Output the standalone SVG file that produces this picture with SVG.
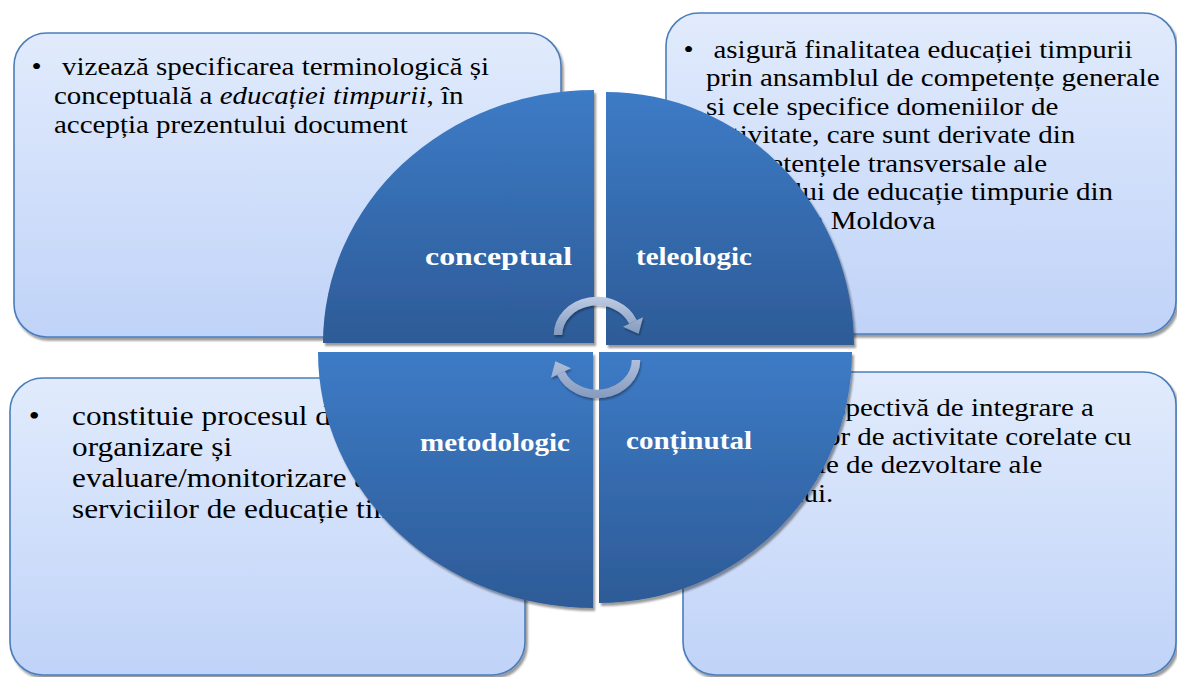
<svg xmlns="http://www.w3.org/2000/svg" width="1177" height="677" viewBox="0 0 1177 677">
<defs>
<style>
.box{fill:url(#boxGrad);stroke:#4a7ebb;stroke-width:1.6;filter:url(#shadow)}
.quad{fill:url(#quadGrad);filter:url(#shadow)}
.b{font-family:"Liberation Serif","Times New Roman",serif;font-size:26px;fill:#000}
.b28{font-family:"Liberation Serif","Times New Roman",serif;font-size:28px;fill:#000}
.lbl{font-family:"Liberation Serif","Times New Roman",serif;font-size:26px;font-weight:bold;fill:#fff}
.arc{fill:none;stroke-width:8.5}
</style>
<linearGradient id="boxGrad" x1="0" y1="0" x2="0" y2="1"><stop offset="0" stop-color="#e1ebfc"/><stop offset="1" stop-color="#c0d3f8"/></linearGradient>
<linearGradient id="quadGrad" x1="0" y1="0" x2="0" y2="1"><stop offset="0" stop-color="#3d7bc6"/><stop offset="1" stop-color="#2d5b97"/></linearGradient>
<linearGradient id="arrTop" gradientUnits="userSpaceOnUse" x1="0" y1="296" x2="0" y2="336"><stop offset="0" stop-color="#bfcde4"/><stop offset="1" stop-color="#8198bd"/></linearGradient>
<linearGradient id="arrBot" gradientUnits="userSpaceOnUse" x1="0" y1="358" x2="0" y2="399"><stop offset="0" stop-color="#b2c2dc"/><stop offset="1" stop-color="#8499be"/></linearGradient>
<filter id="shadow" x="-5%" y="-5%" width="115%" height="115%"><feGaussianBlur in="SourceAlpha" stdDeviation="1.2"/><feOffset dx="2" dy="3"/><feComponentTransfer><feFuncA type="linear" slope="0.4"/></feComponentTransfer><feMerge><feMergeNode/><feMergeNode in="SourceGraphic"/></feMerge></filter>
<filter id="ashadow" x="-20%" y="-20%" width="140%" height="140%"><feGaussianBlur in="SourceAlpha" stdDeviation="1"/><feOffset dx="1" dy="2"/><feComponentTransfer><feFuncA type="linear" slope="0.35"/></feComponentTransfer><feMerge><feMergeNode/><feMergeNode in="SourceGraphic"/></feMerge></filter>
</defs>
<rect width="1177" height="677" fill="#fff"/>

<g id="box-conceptual">
<rect class="box" x="14" y="33" width="547" height="304" rx="33"/>
<g transform="translate(54,0) scale(1.115,1)">
<text class="b" x="-20.3" y="75.5">•</text>
<text class="b" x="7.2" y="75.5">vizează specificarea terminologică și</text>
<text class="b" x="0" y="104.25">conceptuală a <tspan font-style="italic">educației timpurii</tspan>, în</text>
<text class="b" x="0" y="133">accepția prezentului document</text>
</g>
</g>

<g id="box-teleologic">
<rect class="box" x="666" y="13" width="510" height="321" rx="33"/>
<g transform="translate(706,0) scale(1.115,1)">
<text class="b" x="-20.1" y="58">•</text>
<text class="b" x="6.7" y="58">asigură finalitatea educației timpurii</text>
<text class="b" x="0" y="86.5">prin ansamblul de competențe generale</text>
<text class="b" x="0" y="115">si cele specifice domeniilor de</text>
<text class="b" x="0" y="143.5">activitate, care sunt derivate din</text>
<text class="b" x="0" y="172">competențele transversale ale</text>
<text class="b" x="0" y="200.5">sistemului de educație timpurie din</text>
<text class="b" x="0" y="229">Republica Moldova</text>
</g>
</g>

<g id="box-metodologic">
<rect class="box" x="10" y="378" width="515" height="297" rx="33"/>
<g transform="translate(72,0) scale(1.118,1)">
<text class="b28" x="-38.6" y="425.5">•</text>
<text class="b28" x="0" y="425.5">constituie procesul de proiectare,</text>
<text class="b28" x="0" y="456.5">organizare și</text>
<text class="b28" x="0" y="487.5">evaluare/monitorizare a</text>
<text class="b28" x="0" y="518.5">serviciilor de educație timpurie.</text>
</g>
</g>

<g id="box-continutal">
<rect class="box" x="683" y="372" width="493" height="303" rx="33"/>
<g transform="translate(723,0) scale(1.115,1)">
<text class="b" x="-20.1" y="416.5">•</text>
<text class="b" x="6.7" y="416.5">oferă perspectivă de integrare a</text>
<text class="b" x="0" y="445">domeniilor de activitate corelate cu</text>
<text class="b" x="0" y="473.5">domeniile de dezvoltare ale</text>
<text class="b" x="0" y="502">copilului.</text>
</g>
</g>

<g id="node-conceptual">
<path class="quad" d="M594,343 L323,343 A271,253 0 0 1 594,90 Z"/>
<text class="lbl" x="425" y="265" textLength="147" lengthAdjust="spacingAndGlyphs">conceptual</text>
</g>
<g id="node-teleologic">
<path class="quad" d="M606,345 L606,92 A248,254 0 0 1 854,345 Z"/>
<text class="lbl" x="636" y="265" textLength="116" lengthAdjust="spacingAndGlyphs">teleologic</text>
</g>
<g id="node-metodologic">
<path class="quad" d="M593,352 L593,608 A275,256 0 0 1 318,352 Z"/>
<text class="lbl" x="420" y="451" textLength="150" lengthAdjust="spacingAndGlyphs">metodologic</text>
</g>
<g id="node-continutal">
<path class="quad" d="M599,352 L852,352 A253,251 0 0 1 599,603 Z"/>
<text class="lbl" x="626" y="449" textLength="126" lengthAdjust="spacingAndGlyphs">conținutal</text>
</g>

<g id="connectors">
<g filter="url(#ashadow)">
<path class="arc" stroke="url(#arrTop)" d="M558,335 A39,34 0 0 1 633,322"/>
<polygon fill="url(#arrTop)" points="643,317.3 638.6,333.7 623,326.7"/>
</g>
<g filter="url(#ashadow)">
<path class="arc" stroke="url(#arrBot)" d="M636,360 A39,34 0 0 1 561,373"/>
<polygon fill="url(#arrBot)" points="551,377.7 555.4,361.3 571,368.3"/>
</g>
</g>
</svg>
